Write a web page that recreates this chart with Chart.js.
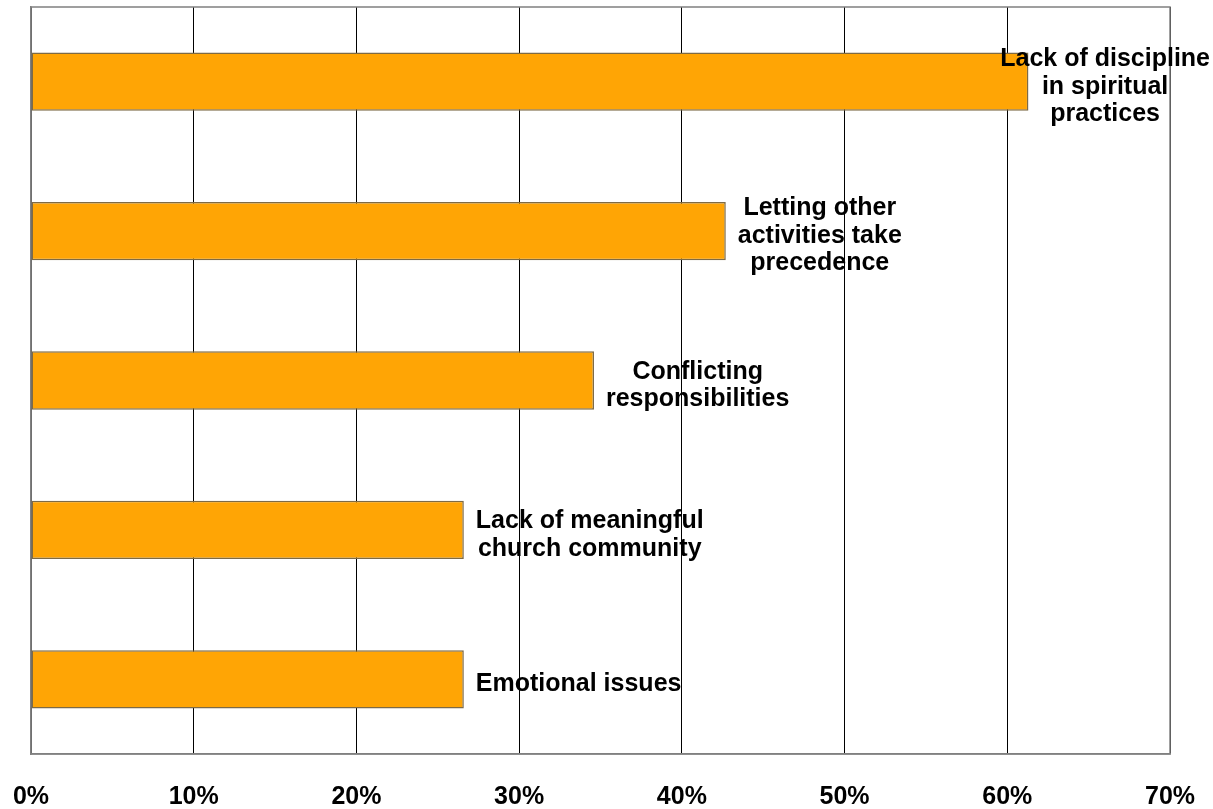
<!DOCTYPE html>
<html>
<head>
<meta charset="utf-8">
<script src="https://cdn.jsdelivr.net/npm/chart.js@4.4.1/dist/chart.umd.min.js"></script>
<style>
    html, body { margin: 0; padding: 0; background: #fff; }
    #wrap { width: 1213px; height: 809px; position: relative; }
</style>
</head>
<body>
<div id="wrap"><canvas id="reasonsChart"></canvas></div>
<script>
/* ==============================
   DATA
============================== */
const categories = [
    ['Lack of discipline', 'in spiritual', 'practices'],
    ['Letting other', 'activities take', 'precedence'],
    ['Conflicting', 'responsibilities'],
    ['Lack of meaningful', 'church community'],
    ['Emotional issues']
];
const percentValues = [61.3, 42.7, 34.6, 26.6, 26.6];
const xTickValues = [0, 10, 20, 30, 40, 50, 60, 70];

const LABEL_FONT = 'bold 25px "Liberation Sans", Arial, sans-serif';

/* ==============================
   PLOT FRAME (gray box round the plot)
============================== */
const frameBox = {
    id: 'frameBox',
    beforeDatasetsDraw(chart) {
        const { ctx, chartArea: a } = chart;
        ctx.save();
        ctx.strokeStyle = '#808080';
        ctx.lineWidth = 1.5;
        ctx.strokeRect(a.left, a.top, a.right - a.left, a.bottom - a.top);
        ctx.restore();
    }
};

/* ==============================
   BAR END LABELS
============================== */
const barEndLabels = {
    id: 'barEndLabels',
    afterDatasetsDraw(chart) {
        const { ctx } = chart;
        const meta = chart.getDatasetMeta(0);
        ctx.save();
        ctx.font = LABEL_FONT;
        ctx.fillStyle = '#000';
        ctx.textAlign = 'center';
        ctx.textBaseline = 'middle';
        const lineH = 27.5;
        meta.data.forEach((bar, i) => {
            const lines = categories[i];
            const w = Math.max(...lines.map(l => ctx.measureText(l).width));
            let cx = bar.x + 12 + w / 2;
            if (cx + w / 2 > chart.width - 3) cx = chart.width - 3 - w / 2;
            const y0 = bar.y + 5 - (lines.length - 1) * lineH / 2;
            lines.forEach((l, k) => ctx.fillText(l, cx, y0 + k * lineH));
        });
        ctx.restore();
    }
};

/* ==============================
   CHART
============================== */
function renderReasonsChart() {
    const ctx = document.getElementById('reasonsChart');
    if (!ctx) return;

    new Chart(ctx.getContext('2d'), {
        type: 'bar',
        data: {
            labels: categories,
            datasets: [{
                data: percentValues,
                backgroundColor: '#FFA505',
                borderColor: '#7d6a45',
                borderWidth: 1.5,
                borderSkipped: false,
                barPercentage: 0.39,
                categoryPercentage: 1
            }]
        },
        options: {
            indexAxis: 'y',
            responsive: true,
            maintainAspectRatio: false,
            animation: false,
            layout: { padding: { left: 31, right: 43, top: 7, bottom: 0 } },
            plugins: {
                legend: { display: false },
                tooltip: { enabled: false }
            },
            scales: {
                x: {
                    min: 0,
                    max: 70,
                    afterBuildTicks: axis => { axis.ticks = xTickValues.map(v => ({ value: v })); },
                    afterFit: axis => {
                        axis.height = 55;
                        axis.paddingLeft = 0;
                        axis.paddingRight = 0;
                    },
                    ticks: {
                        callback: v => v + '%',
                        color: '#000',
                        padding: 31,
                        maxRotation: 0,
                        font: { family: '"Liberation Sans", Arial, sans-serif', size: 25, weight: 'bold', lineHeight: 1 }
                    },
                    grid: { color: '#000', lineWidth: 1, drawTicks: false },
                    border: { color: '#808080', width: 1.5 }
                },
                y: {
                    ticks: { display: false },
                    grid: { display: false, drawTicks: false },
                    border: { color: '#808080', width: 1.5 }
                }
            }
        },
        plugins: [frameBox, barEndLabels]
    });
}

document.addEventListener('DOMContentLoaded', renderReasonsChart);
</script>
</body>
</html>
